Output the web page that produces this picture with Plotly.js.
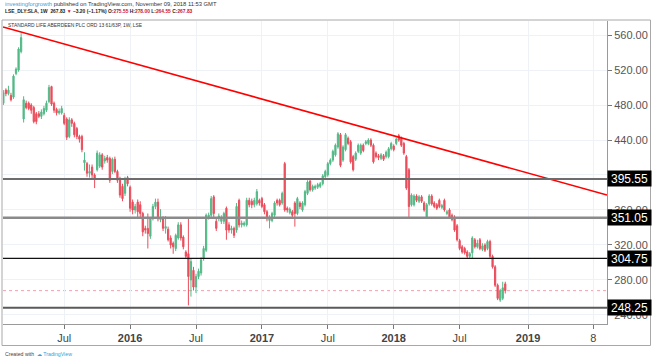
<!DOCTYPE html>
<html>
<head>
<meta charset="utf-8">
<script src="https://cdn.plot.ly/plotly-3.0.1.min.js"></script>
<style>html,body{margin:0;padding:0;background:#fff;}#chart{width:653px;height:361px;}</style>
</head>
<body>
<div id="chart"></div>
<script>
// ---- data (weekly candles, LSE:SLA) ----
const firstWeek = '2015-01-19';
const opens = [482,497,493,491,489,516,520,541,464,482,482,480,477,470,470,467,470,474,484,501,
482,475,471,471,468,464,444,463,459,453,444,444,414,413,402,409,400,406,410,423,
416,420,419,404,418,404,396,387,379,397,386,369,360,369,366,356,339,339,330,350,
364,369,349,350,339,338,328,322,316,328,343,329,312,310,280,291,272,284,288,305,
314,352,354,375,347,350,347,347,362,343,337,339,337,371,343,343,343,371,370,366,
367,371,373,366,358,348,348,354,371,371,368,413,362,357,358,368,356,368,360,366,
379,393,383,385,386,387,390,398,400,413,417,423,432,446,417,429,442,438,421,418,
427,425,434,436,436,440,434,425,422,419,422,421,421,430,433,436,445,442,436,421,
406,366,366,376,370,375,368,352,367,376,368,366,371,363,371,356,360,354,352,342,
325,318,316,312,307,311,326,318,326,315,320,316,324,307,295,274,257,259,275.55];
const highs = [497,499,502,494,515,523,546,562,490,485,484,482,479,472,473,475,479,485,503,502,
484,477,476,479,471,466,466,465,461,455,446,446,426,415,412,412,402,428,426,425,
422,423,421,420,421,406,398,390,398,399,388,372,367,372,370,358,342,356,352,367,
373,373,361,353,353,341,331,324,333,346,346,331,314,350,305,295,287,293,306,319,
356,357,376,377,350,356,354,358,364,346,342,341,368,373,348,347,374,374,373,374,
384,373,375,368,360,354,358,370,373,373,381,415,364,363,360,370,375,370,370,383,
394,395,389,389,391,392,401,406,415,419,429,436,449,448,434,448,444,440,423,427,
436,436,436,440,442,442,436,427,424,425,424,428,432,438,435,443,447,444,438,423,
408,379,378,378,377,377,370,368,378,378,370,368,373,367,373,360,362,356,354,344,
327,320,318,314,312,330,328,326,328,322,322,326,326,309,297,276,270,278,278];
const lows = [480,490,491,484,487,514,518,539,460,475,474,470,459,458,465,464,468,472,482,479,
471,468,469,469,457,440,442,455,443,441,437,426,405,398,397,396,385,404,408,406,
413,414,391,401,402,391,374,370,376,387,358,355,356,352,352,330,333,316,327,348,
361,347,346,336,333,324,316,310,313,326,325,315,304,251,261,268,265,281,285,302,
312,349,352,352,336,347,344,344,326,334,333,328,334,340,340,341,341,363,362,363,
365,365,362,355,347,339,346,352,365,364,366,358,357,355,351,341,354,361,358,364,
377,381,381,383,384,385,388,396,398,411,415,421,430,409,415,427,434,413,404,416,
425,423,426,434,434,432,413,419,417,417,416,419,419,428,427,434,438,432,423,383,
350,364,364,369,368,368,358,350,365,365,362,360,362,361,358,354,350,347,335,324,
314,310,309,305,304,304,316,316,314,313,312,314,305,293,272,257,255,257,264.55];
const closes = [494,493,497,486,513,521,544,557,486,477,476,474,461,461,467,472,476,482,500,481,
474,471,473,476,459,443,463,459,446,444,441,429,417,402,404,400,396,425,423,409,
419,417,394,418,404,394,377,373,396,390,362,360,364,358,356,335,337,333,350,364,
369,350,352,339,341,326,320,318,331,343,328,318,307,284,301,272,284,290,303,316,
354,354,373,356,339,353,350,356,337,337,339,331,364,343,345,345,371,366,366,371,
381,368,364,358,350,352,356,368,368,366,379,360,360,361,354,356,373,364,368,381,
392,383,387,387,389,390,399,404,413,417,427,434,447,411,432,446,436,415,406,425,
434,434,428,438,440,434,415,421,420,423,418,426,430,436,429,441,440,434,425,385,
364,377,376,371,375,370,360,366,376,367,364,362,364,365,360,358,352,349,337,326,
316,312,311,307,310,328,318,322,316,319,314,324,307,295,274,259,268,271.03,267.83];

const levels = [395.55, 351.05, 304.75, 248.25];
const lastPrice = 267.83;
const trendDates = ['2015-01-18', '2019-08-13'];
const trendPrices = [569.1, 377.1];

const xTickVals = ['2015-07-06','2016-01-04','2016-07-04','2017-01-02','2017-07-03','2018-01-01','2018-07-02','2019-01-07','2019-07-06'];
const xTickText = ['Jul','<b>2016</b>','Jul','<b>2017</b>','Jul','<b>2018</b>','Jul','<b>2019</b>','8'];
const yTicks = [240,280,320,360,400,440,480,520,560];
const yTickText = ['240.00','280.00','320.00','360.00','','440.00','480.00','520.00','560.00'];

// weekly bar dates
const dates = [];
{
  const d0 = new Date(firstWeek + 'T00:00:00Z');
  for (let i = 0; i < closes.length; i++) {
    const d = new Date(d0.getTime() + i * 7 * 86400000);
    dates.push(d.toISOString().slice(0, 10));
  }
}

// ---- layout helpers (pixel -> paper) ----
const W = 653, H = 361, ML = 3, MR = 46, MT = 21, MB = 37;
const PW = W - ML - MR, PH = H - MT - MB;
const px = x => (x - ML) / PW;
const py = y => (H - MB - y) / PH;

const UP = '#53b987', DN = '#eb4d5c';
const FONT = 'Liberation Sans, Arial, sans-serif';

const candles = {
  type: 'candlestick', x: dates, open: opens, high: highs, low: lows, close: closes,
  increasing: {line: {color: UP, width: 1}, fillcolor: UP},
  decreasing: {line: {color: DN, width: 1}, fillcolor: DN},
  whiskerwidth: 0, hoverinfo: 'skip'
};
const trend = {
  type: 'scatter', mode: 'lines', x: trendDates, y: trendPrices,
  line: {color: '#ff0000', width: 1.6}, hoverinfo: 'skip'
};

const levelStyles = [
  {color: '#6d6d6d', width: 2},
  {color: '#8a8a8a', width: 2.5},
  {color: '#111111', width: 1.2},
  {color: '#5a5a5a', width: 2}
];

const shapes = levels.map((v, i) => ({
  type: 'line', xref: 'paper', yref: 'y', x0: 0, x1: 1, y0: v, y1: v,
  line: levelStyles[i], layer: 'above'
}));
shapes.push({type: 'line', xref: 'paper', yref: 'y', x0: 0, x1: 1, y0: lastPrice, y1: lastPrice,
  line: {color: '#f4a0ac', width: 1, dash: 'dot'}, layer: 'below'});
shapes.push({type: 'rect', xref: 'paper', yref: 'paper', x0: px(2), x1: px(650.5), y0: py(345.5), y1: py(20),
  line: {color: '#a8a8a8', width: 1}, fillcolor: 'rgba(0,0,0,0)'});

const annotations = levels.map(v => ({
  xref: 'paper', yref: 'y', x: 1, y: v, xanchor: 'left', yanchor: 'middle',
  text: v.toFixed(2), showarrow: false, bgcolor: '#000000', borderpad: 1.5,
  width: 40, height: 12, font: {family: FONT, size: 12, color: '#ffffff'}
}));

annotations.push({
  xref: 'paper', yref: 'paper', x: px(3), y: py(4.5), xanchor: 'left', yanchor: 'middle', showarrow: false,
  text: '<span style="color:#3aa0d8">investingforgrowth</span> published on TradingView.com, November 09, 2018 11:53 GMT',
  font: {family: FONT, size: 5.8, color: '#333333'}
});
annotations.push({
  xref: 'paper', yref: 'paper', x: px(3), y: py(11.8), xanchor: 'left', yanchor: 'middle', showarrow: false,
  text: '<b>LSE_DLY:SLA, 1W  267.83 <span style="color:#c8102e">▼</span> −3.20 (−1.17%) O:<span style="color:#c8102e">275.55</span> H:<span style="color:#c8102e">278.00</span> L:<span style="color:#c8102e">264.55</span> C:<span style="color:#c8102e">267.83</span></b>',
  font: {family: FONT, size: 4.9, color: '#222222'}
});
annotations.push({
  xref: 'paper', yref: 'paper', x: px(6), y: py(25.5), xanchor: 'left', yanchor: 'middle', showarrow: false,
  text: 'STANDARD LIFE ABERDEEN PLC ORD 13 61/63P, 1W, LSE',
  font: {family: FONT, size: 4.9, color: '#333333'}
});
annotations.push({
  xref: 'paper', yref: 'paper', x: px(3), y: py(353.5), xanchor: 'left', yanchor: 'middle', showarrow: false,
  text: 'Created with  <span style="color:#2f9fd8">☁ TradingView</span>',
  font: {family: FONT, size: 5.2, color: '#444444'}
});

const layout = {
  width: W, height: H, autosize: false,
  margin: {l: ML, r: MR, t: MT, b: MB, pad: 0},
  paper_bgcolor: '#ffffff', plot_bgcolor: '#ffffff',
  showlegend: false, hovermode: false, dragmode: false,
  font: {family: FONT},
  xaxis: {
    type: 'date', range: ['2015-01-18', '2019-08-13'],
    tickmode: 'array', tickvals: xTickVals, ticktext: xTickText,
    ticks: 'outside', ticklen: 4, tickcolor: '#777', tickwidth: 1,
    showline: true, linecolor: '#9a9a9a', linewidth: 1,
    showgrid: true, gridcolor: '#eef1f5', gridwidth: 1,
    tickfont: {family: FONT, size: 11, color: '#444444'},
    rangeslider: {visible: false}, fixedrange: true, zeroline: false
  },
  yaxis: {
    side: 'right', range: [229.7, 576],
    tickmode: 'array', tickvals: yTicks, ticktext: yTickText,
    ticks: 'outside', ticklen: 4, tickcolor: '#777', tickwidth: 1,
    showline: true, linecolor: '#9a9a9a', linewidth: 1,
    showgrid: true, gridcolor: '#eef1f5', gridwidth: 1,
    tickfont: {family: FONT, size: 11, color: '#555555'},
    fixedrange: true, zeroline: false
  },
  shapes: shapes,
  annotations: annotations
};

Plotly.newPlot('chart', [candles, trend], layout, {displayModeBar: false, staticPlot: true});
</script>
</body>
</html>
